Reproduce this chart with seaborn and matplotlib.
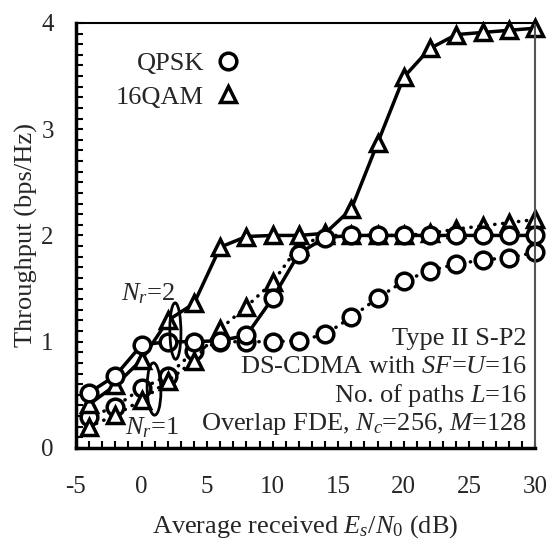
import matplotlib
matplotlib.use('Agg')
import matplotlib.pyplot as plt
from matplotlib.lines import Line2D
from matplotlib.patches import Ellipse
from matplotlib.ticker import MultipleLocator
import seaborn as sns
import pandas as pd

# Throughput vs average received Es/N0
snr_db = [-4, -2, 0, 2, 4, 6, 8, 10, 12, 14, 16, 18, 20, 22, 24, 26, 28, 30]
qpsk_nr2 = [0.52, 0.68, 0.97, 1.00, 1.00, 1.01, 1.06, 1.41, 1.83, 1.98, 2.00, 2.00, 2.00, 2.00, 2.00, 2.00, 2.00, 2.00]
qpsk_nr1 = [0.29, 0.39, 0.56, 0.68, 0.91, 1.00, 1.00, 1.00, 1.01, 1.07, 1.23, 1.41, 1.57, 1.67, 1.73, 1.77, 1.79, 1.84]
qam_nr2 = [0.41, 0.59, 0.83, 1.20, 1.36, 1.89, 1.99, 2.00, 2.00, 2.02, 2.25, 2.87, 3.49, 3.76, 3.89, 3.91, 3.93, 3.95]
qam_nr1 = [0.20, 0.31, 0.45, 0.63, 0.82, 1.12, 1.33, 1.56, 1.90, 2.00, 2.00, 2.00, 2.00, 2.02, 2.06, 2.09, 2.12, 2.15]

notes = ['Type II S-P2', 'DS-CDMA with $SF$=$U$=16', 'No. of paths $L$=16',
         'Overlap FDE, $N_c$=256, $M$=128']

sns.set_theme(style='white')
plt.rcParams['font.family'] = ['Liberation Serif', 'DejaVu Serif']
plt.rcParams['mathtext.fontset'] = 'custom'
plt.rcParams['mathtext.rm'] = 'Liberation Serif'
plt.rcParams['mathtext.it'] = 'Liberation Serif:italic'
plt.rcParams['axes.unicode_minus'] = False
plt.rcParams['font.size'] = 19

fig = plt.figure(figsize=(5.53, 5.45), dpi=100)
ax = fig.add_axes([0.1374, 0.178, 0.830, 0.780])

series = [
    (qpsk_nr1, 'o', (0, (0.1, 2.2))),
    (qam_nr1, '^', (0, (0.1, 2.2))),
    (qam_nr2, '^', '-'),
    (qpsk_nr2, 'o', '-'),
]
for vals, mk, ls in series:
    d = pd.DataFrame({'snr': snr_db, 'tp': vals})
    sns.lineplot(data=d, x='snr', y='tp', ax=ax, color='black', lw=2.5,
                 linestyle=ls, dash_capstyle='round', marker=mk, markersize=12,
                 markerfacecolor='white', markeredgecolor='black',
                 markeredgewidth=2.5, clip_on=False)

# ellipses grouping the Nr curves
ax.add_patch(Ellipse((2.58, 1.10), 0.85, 0.53, angle=-3, fill=False, lw=2, color='black', zorder=5))
ax.add_patch(Ellipse((0.95, 0.555), 1.05, 0.49, angle=-3, fill=False, lw=2, color='black', zorder=5))
ax.text(2.55, 1.39, '$N_r$=2', ha='right', va='baseline', fontsize=19)
ax.text(-1.26, 0.13, '$N_r$=1', ha='left', va='baseline', fontsize=19)

for txt, yb in zip(notes, [0.97, 0.706, 0.433, 0.17]):
    ax.text(29.4, yb, txt, ha='right', va='baseline', fontsize=19)

handles = [Line2D([], [], ls='none', marker='o', markersize=12, markerfacecolor='white',
                  markeredgecolor='black', markeredgewidth=2.5),
           Line2D([], [], ls='none', marker='^', markersize=12, markerfacecolor='white',
                  markeredgecolor='black', markeredgewidth=2.5)]
ax.legend(handles, ['QPSK', '16QAM'], loc='upper left', bbox_to_anchor=(0.064, 0.957),
          frameon=False, markerfirst=False, handlelength=1.0, handletextpad=0.4,
          labelspacing=0.38, fontsize=19, borderaxespad=0)

ax.set_xlim(-5, 30)
ax.set_ylim(0, 4)
ax.xaxis.set_major_locator(MultipleLocator(5))
ax.xaxis.set_minor_locator(MultipleLocator(1))
ax.yaxis.set_major_locator(MultipleLocator(1))
ax.yaxis.set_minor_locator(MultipleLocator(0.1))
ax.tick_params(which='both', direction='in', length=5, width=1.5, color='black',
               top=False, right=False, bottom=True, left=True)
ax.tick_params(axis='x', which='major', pad=20, labelsize=18)
ax.tick_params(axis='y', which='major', pad=16, labelsize=18)

ax.set_xlabel('Average received $E_s$/$N_0$ (dB)', fontsize=19, labelpad=11)
ax.set_ylabel('Throughput (bps/Hz)', fontsize=19, labelpad=2)

for side in ['left', 'bottom']:
    ax.spines[side].set_linewidth(2.5)
    ax.spines[side].set_color('black')
ax.spines['top'].set_linewidth(1.5)
ax.spines['top'].set_color('black')
ax.spines['right'].set_linewidth(1.5)
ax.spines['right'].set_color('#555555')

fig.savefig('out.png', dpi=100)
